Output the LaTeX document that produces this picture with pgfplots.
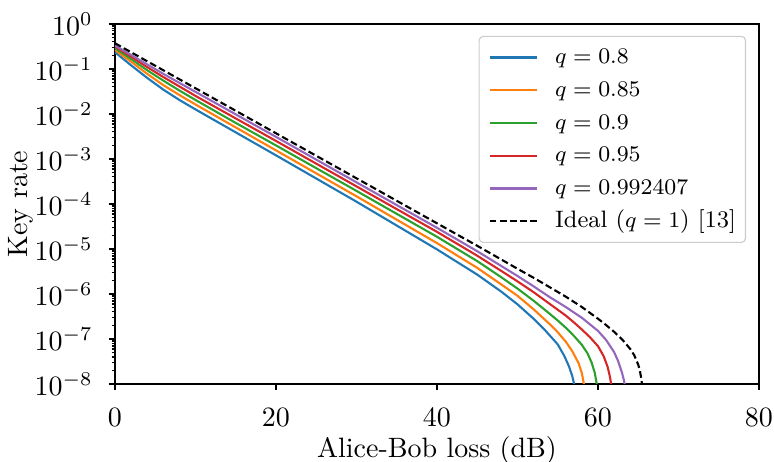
\documentclass[border=0pt]{standalone}
\usepackage{pgfplots}
\usepackage{pgfplotstable}
\pgfplotsset{compat=1.18}
\definecolor{cA}{HTML}{1F77B4}
\definecolor{cB}{HTML}{FF7F0E}
\definecolor{cC}{HTML}{2CA02C}
\definecolor{cD}{HTML}{D62728}
\definecolor{cE}{HTML}{9467BD}

% log10 of key rate
\pgfplotstableread{
L lr
0 -0.63
2 -0.92
4 -1.20
6 -1.46
8 -1.69
10 -1.90
15 -2.41
20 -2.92
30 -3.95
40 -5.01
45 -5.57
48 -5.95
50 -6.23
52 -6.55
53.5 -6.82
55 -7.12
55.8 -7.37
56.4 -7.61
56.8 -7.82
57.1 -8.05
}\qa
\pgfplotstableread{
L lr
0 -0.58
2 -0.84
4 -1.11
6 -1.36
8 -1.58
10 -1.79
15 -2.30
20 -2.81
30 -3.83
40 -4.87
45 -5.42
48 -5.79
50 -6.04
52 -6.34
54 -6.67
55 -6.85
56 -7.06
56.8 -7.27
57.6 -7.54
58 -7.76
58.3 -8.05
}\qb
\pgfplotstableread{
L lr
0 -0.54
2 -0.78
4 -1.03
6 -1.26
8 -1.48
10 -1.69
15 -2.20
20 -2.70
30 -3.71
40 -4.73
45 -5.27
48 -5.63
50 -5.88
52 -6.15
54 -6.44
55 -6.59
56 -6.75
57 -6.93
58 -7.13
58.7 -7.32
59.2 -7.52
59.6 -7.75
59.9 -8.05
}\qc
\pgfplotstableread{
L lr
0 -0.50
2 -0.73
4 -0.96
6 -1.18
8 -1.39
10 -1.60
15 -2.10
20 -2.60
30 -3.61
40 -4.62
45 -5.15
48 -5.49
50 -5.72
52 -5.96
54 -6.22
56 -6.48
57 -6.63
58 -6.79
59 -6.96
60 -7.16
60.7 -7.38
61.2 -7.62
61.5 -7.85
61.7 -8.08
}\qd
\pgfplotstableread{
L lr
0 -0.48
2 -0.69
4 -0.90
6 -1.11
8 -1.31
10 -1.51
15 -2.01
20 -2.51
30 -3.52
40 -4.53
45 -5.05
48 -5.38
50 -5.60
52 -5.83
54 -6.07
56 -6.29
58 -6.53
60 -6.82
61 -7.02
62 -7.29
62.5 -7.49
63 -7.76
63.2 -7.90
63.4 -8.08
}\qe
\pgfplotstableread{
L lr
0 -0.43
2 -0.63
4 -0.83
6 -1.03
8 -1.23
10 -1.43
15 -1.93
20 -2.43
30 -3.43
40 -4.43
45 -4.93
50 -5.44
52 -5.64
54 -5.85
56 -6.06
58 -6.29
60 -6.55
61 -6.69
62 -6.84
63 -7.01
64 -7.22
64.5 -7.36
65 -7.57
65.2 -7.70
65.4 -7.90
65.5 -8.05
}\qideal

\begin{document}
\begin{tikzpicture}
\begin{axis}[
  scale only axis,
  width=230pt, height=128.6pt,
  xmin=0, xmax=80,
  ymode=log, ymin=1e-8, ymax=1,
  xtick={0,20,40,60,80},
  ytick={1e-8,1e-7,1e-6,1e-5,1e-4,1e-3,1e-2,1e-1,1},
  minor ytick={2e-8,3e-8,4e-8,5e-8,6e-8,7e-8,8e-8,9e-8,
    2e-7,3e-7,4e-7,5e-7,6e-7,7e-7,8e-7,9e-7,
    2e-6,3e-6,4e-6,5e-6,6e-6,7e-6,8e-6,9e-6,
    2e-5,3e-5,4e-5,5e-5,6e-5,7e-5,8e-5,9e-5,
    2e-4,3e-4,4e-4,5e-4,6e-4,7e-4,8e-4,9e-4,
    2e-3,3e-3,4e-3,5e-3,6e-3,7e-3,8e-3,9e-3,
    2e-2,3e-2,4e-2,5e-2,6e-2,7e-2,8e-2,9e-2,
    2e-1,3e-1,4e-1,5e-1,6e-1,7e-1,8e-1,9e-1},
  tick align=outside,
  xtick pos=bottom, ytick pos=left,
  major tick length=2.2pt, minor tick length=1.2pt,
  every tick/.style={black, line width=0.45pt},
  axis line style={line width=0.55pt},
  xticklabel style={yshift=-2.9pt},
  yticklabel style={xshift=-2.2pt},
  xlabel={Alice-Bob loss (dB)},
  ylabel={Key rate},
  xlabel style={yshift=3.1pt},
  ylabel style={yshift=-6.3pt},
  legend cell align=left,
  legend image code/.code={\draw[#1] (0pt,0pt) -- (17pt,0pt);},
  legend style={
    at={(0.98,0.967)}, anchor=north east,
    font=\fontsize{8.5}{10}\selectfont,
    draw=black!20, line width=0.4pt, fill=white, fill opacity=0.8, text opacity=1,
    rounded corners=1.5pt,
    inner xsep=3.4pt, inner ysep=3.4pt,
    row sep=3.4pt, column sep=6pt,
    nodes={inner sep=0pt, text height=6.3pt, text depth=2pt}
  },
  every axis plot/.append style={line width=0.75pt},
]
\addplot[cA] table[x=L, y expr=10^(\thisrow{lr})] {\qa};
\addlegendentry{$q=0.8$}
\addplot[cB] table[x=L, y expr=10^(\thisrow{lr})] {\qb};
\addlegendentry{$q=0.85$}
\addplot[cC] table[x=L, y expr=10^(\thisrow{lr})] {\qc};
\addlegendentry{$q=0.9$}
\addplot[cD] table[x=L, y expr=10^(\thisrow{lr})] {\qd};
\addlegendentry{$q=0.95$}
\addplot[cE] table[x=L, y expr=10^(\thisrow{lr})] {\qe};
\addlegendentry{$q=0.992407$}
\addplot[black, dash pattern=on 2.4pt off 1.2pt] table[x=L, y expr=10^(\thisrow{lr})] {\qideal};
\addlegendentry{Ideal ($q=1$) [13]}
\end{axis}
\pgfresetboundingbox
\path (-41.07pt,-27.86pt) rectangle (235.36pt,137.14pt);
\end{tikzpicture}
\end{document}
